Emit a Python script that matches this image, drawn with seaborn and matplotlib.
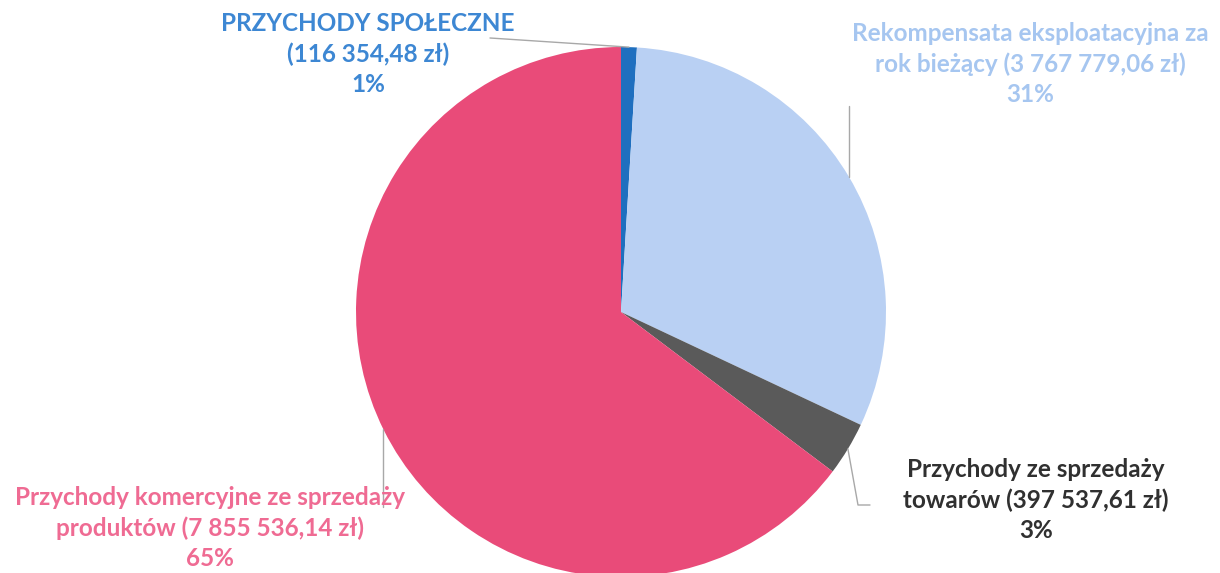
import numpy as np
import matplotlib
matplotlib.use("Agg")
import matplotlib.pyplot as plt
import seaborn as sns

# data (clockwise from the top)
categories = ["PRZYCHODY SPOŁECZNE",
              "Rekompensata eksploatacyjna za\nrok bieżący",
              "Przychody ze sprzedaży\ntowarów",
              "Przychody komercyjne ze sprzedaży\nproduktów"]
amounts = [116354.48, 3767779.06, 397537.61, 7855536.14]
amount_labels = ["116 354,48 zł", "3 767 779,06 zł", "397 537,61 zł", "7 855 536,14 zł"]
percent_labels = ["1%", "31%", "3%", "65%"]

wedge_colors = ["#1F6FBF", "#B9D0F3", "#5A5A5A", "#E94B79"]
text_colors = ["#3D87D3", "#A6C6F0", "#303030", "#EF6B93"]

sns.set_theme(style="white")
plt.rcParams["font.family"] = ["Lato", "DejaVu Sans"]

W, H = 1220, 573
CX, CY, R = 621, 312, 265


def px(x, y):
    """pixel position -> data units (pie radius = 1)"""
    return (x - CX) / R, (CY - y) / R


fig = plt.figure(figsize=(W / 100, H / 100), dpi=100)
ax = fig.add_axes([0, 0, 1, 1])
ax.pie(amounts, colors=wedge_colors, startangle=90, counterclock=False,
       radius=1, center=(0, 0), wedgeprops={"linewidth": 0})
x0, y0 = px(0, 0)
x1, y1 = px(W, H)
ax.set_xlim(x0, x1)
ax.set_ylim(y1, y0)
ax.axis("off")

# wedge mid angles for leader lines
fracs = np.array(amounts) / sum(amounts)
ends = np.cumsum(fracs)
mids = ends - fracs / 2
ang = np.radians(90 - 360 * mids)

# label blocks: (centre x, centre y) in pixels
label_pos = [(368, 54), (1030, 64), (1036, 500), (210, 528)]
for cat, amt, pct, col, (lx, ly) in zip(categories, amount_labels, percent_labels,
                                       text_colors, label_pos):
    if "\n" in cat:
        txt = f"{cat} ({amt})\n{pct}"
    else:
        txt = f"{cat}\n({amt})\n{pct}"
    tx, ty = px(lx, ly)
    ax.text(tx, ty, txt, ha="center", va="center", color=col, fontsize=17.5,
            fontweight="bold", linespacing=1.35)

lc = "#A8A8A8"
# PRZYCHODY SPOŁECZNE
p = np.array([np.cos(ang[0]), np.sin(ang[0])])
ax.plot([px(490, 38)[0], p[0]], [px(490, 38)[1], p[1]], color=lc, lw=1)
# Rekompensata: vertical line down to the pie edge
vx = px(849, 0)[0]
ax.plot([vx, vx], [px(0, 106)[1], np.sqrt(1 - vx ** 2)], color=lc, lw=1)
# towary
p = np.array([np.cos(ang[2]), np.sin(ang[2])])
ax.plot([p[0], px(858, 505)[0], px(870, 505)[0]],
        [p[1], px(858, 505)[1], px(870, 505)[1]], color=lc, lw=1)
# komercyjne
kx = px(383, 0)[0]
ax.plot([kx, kx], [-np.sqrt(1 - kx ** 2), px(0, 507)[1]], color=lc, lw=1)

fig.savefig("out.png", dpi=100, facecolor="white")
